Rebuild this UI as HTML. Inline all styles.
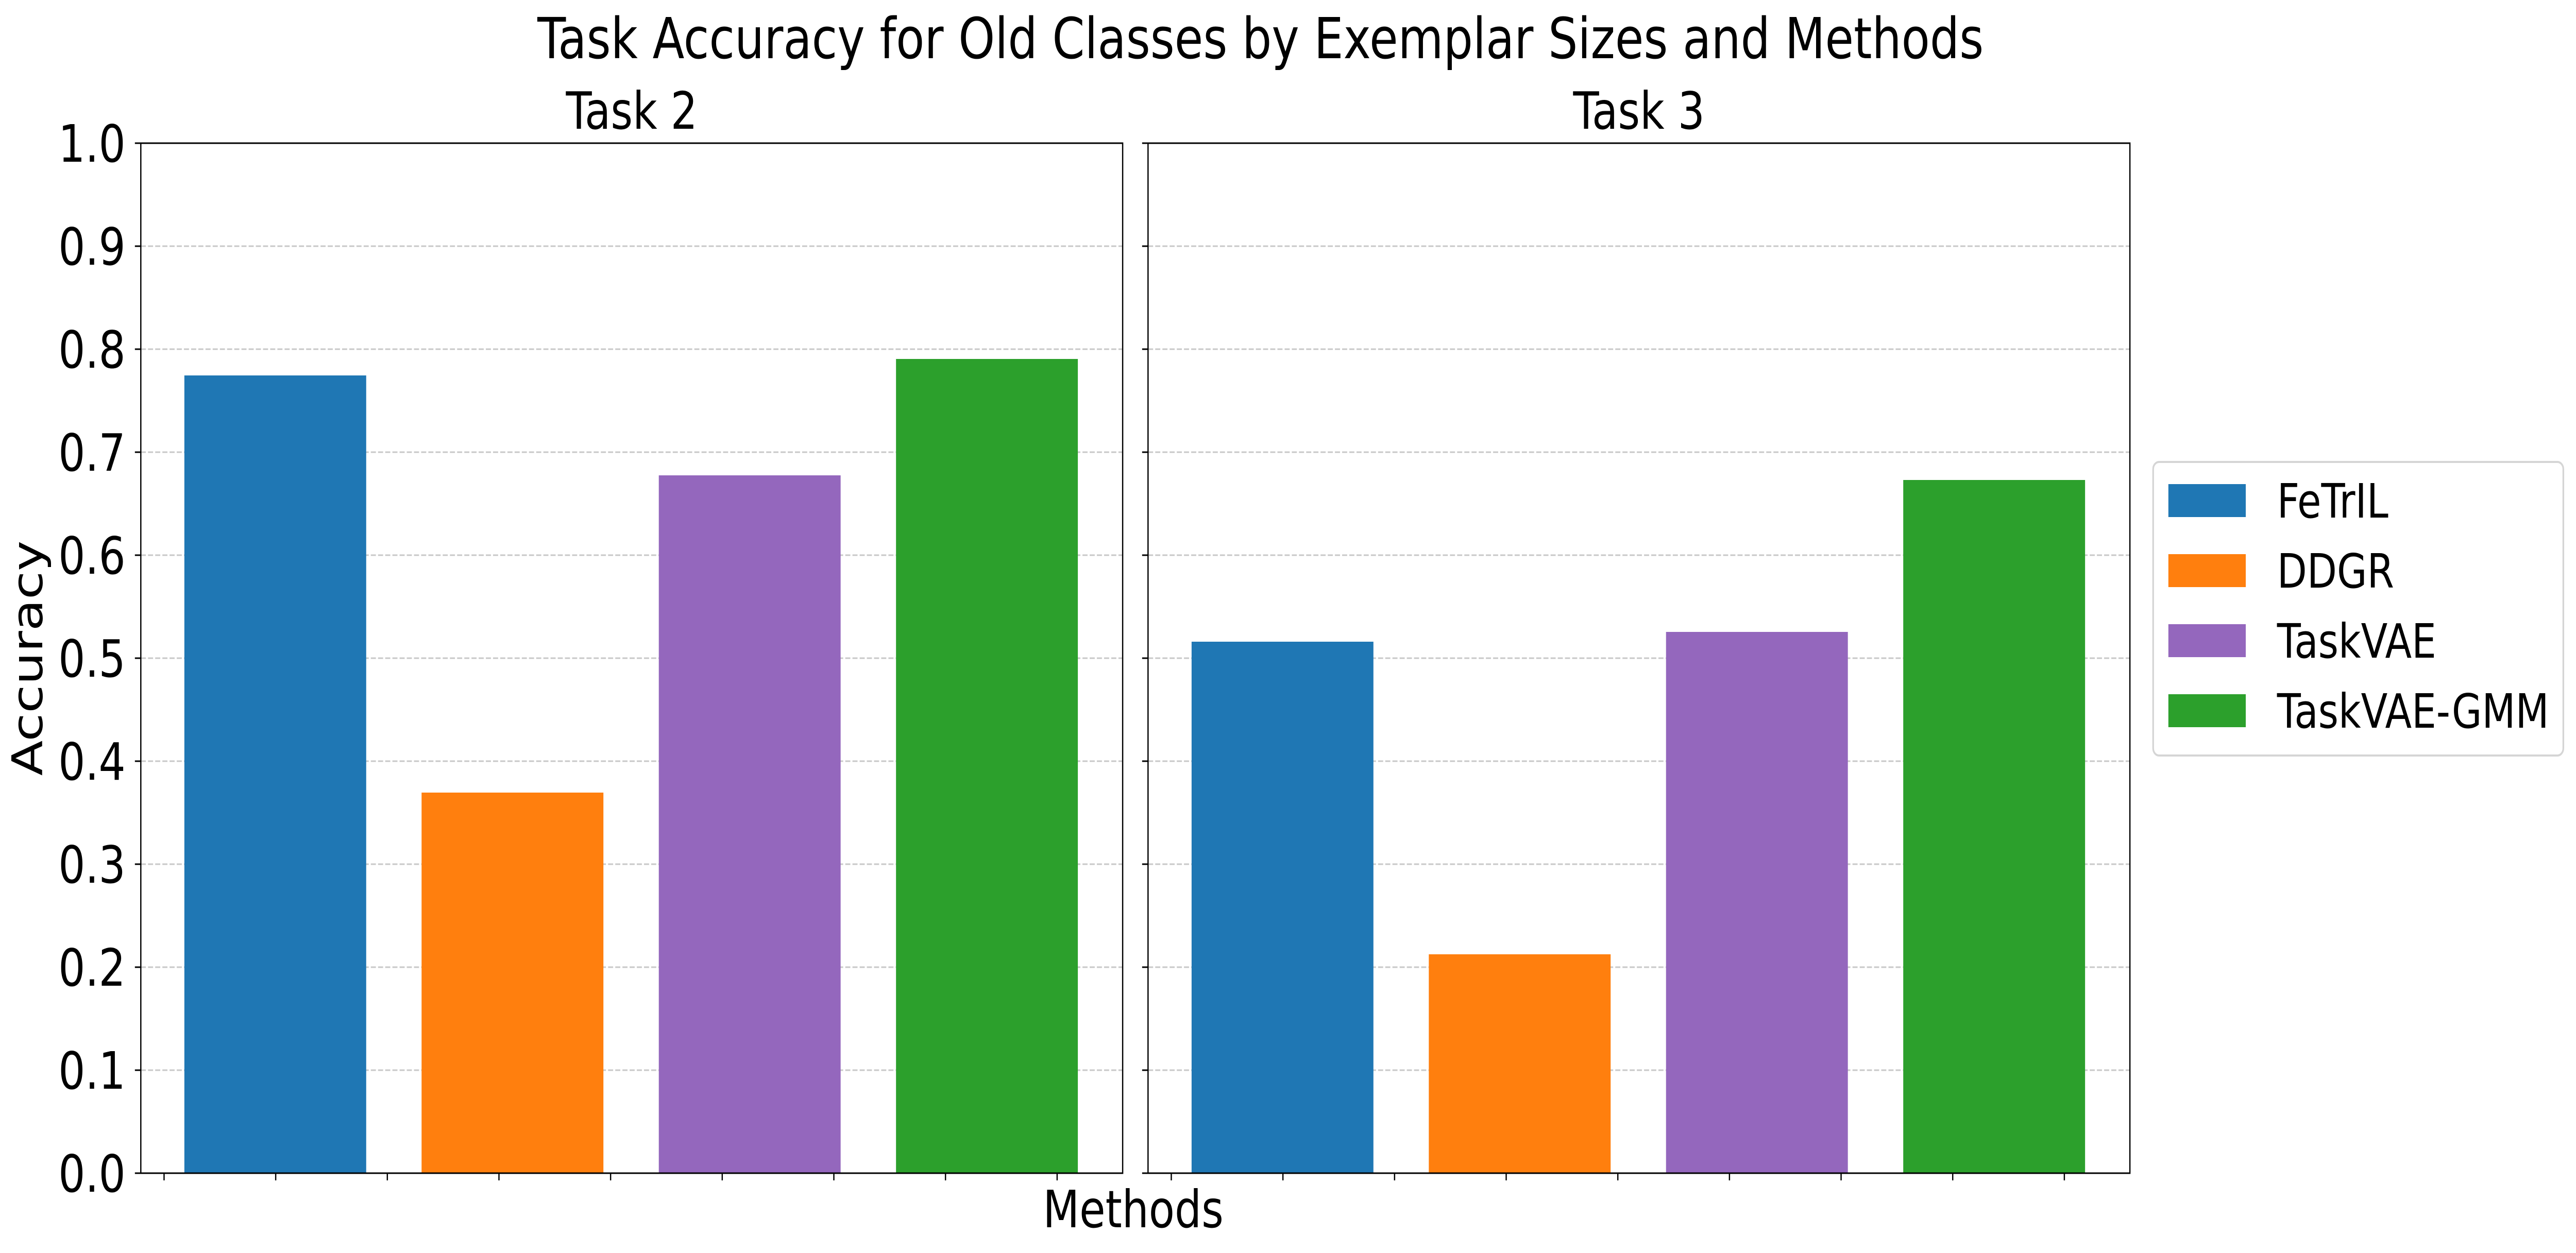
<!DOCTYPE html>
<html><head><meta charset="utf-8"><style>
html,body{margin:0;padding:0;background:#fff;overflow:hidden;width:100vw;height:100vh;}
svg{display:block;width:100vw;height:100vh;font-family:"DejaVu Sans","Liberation Sans",sans-serif;}
</style></head><body>
<svg id="chart" xmlns="http://www.w3.org/2000/svg" viewBox="0 0 6092 2433" preserveAspectRatio="none">
<rect x="0" y="0" width="6092" height="2433" fill="#fff"/>
<text x="2981" y="113" font-size="110" text-anchor="middle">Task Accuracy for Old Classes by Exemplar Sizes and Methods</text>
<text transform="translate(100,1278) rotate(-90)" font-size="100" text-anchor="middle">Accuracy</text>
<text x="2680" y="2383" font-size="100" text-anchor="middle">Methods</text>
<g id="panels"></g>
<g>
<rect x="5092" y="897" width="970" height="570" rx="14" fill="#fff" stroke="#d5d5d5" stroke-width="4"/>
<g id="legend-items"></g>
</g>
</svg>
<script>
const methods = ["FeTrIL", "DDGR", "TaskVAE", "TaskVAE-GMM"];
const colors = ["#1f77b4", "#ff7f0e", "#9467bd", "#2ca02c"];
const taskTitles = ["Task 2", "Task 3"];
const task2Values = [0.7745, 0.3695, 0.6775, 0.7905];
const task3Values = [0.516, 0.2125, 0.5255, 0.673];
const yTicks = [0.0, 0.1, 0.2, 0.3, 0.4, 0.5, 0.6, 0.7, 0.8, 0.9, 1.0];
const yTickLabels = ["0.0","0.1","0.2","0.3","0.4","0.5","0.6","0.7","0.8","0.9","1.0"];

const NS = "http://www.w3.org/2000/svg";
const panelsG = document.getElementById("panels");
const panelLefts = [333, 2715];
const panelWidth = 2322;
const plotTop = 278, plotBottom = 2278;
function yScale(v){ return plotBottom - v * (plotBottom - plotTop); }
function xBarLeft(p, i){ return panelLefts[p] + 103 + i * 561; }
const barWidth = 430;
function mk(tag, attrs, parent){
  const el = document.createElementNS(NS, tag);
  for (const k in attrs) el.setAttribute(k, attrs[k]);
  parent.appendChild(el);
  return el;
}
const allValues = [task2Values, task3Values];
for (let p = 0; p < 2; p++) {
  const g = mk("g", {}, panelsG);
  
  
  const L = panelLefts[p], R = L + panelWidth;
  yTicks.forEach((t, k) => {
    if (t === 0 || t === 1) return;
    const gl = mk("line", {x1:L, x2:R, y1:yScale(t), y2:yScale(t), stroke:"#c8c8c8", "stroke-width":3, "stroke-dasharray":"12,5"}, g);
    
    
  });
  allValues[p].forEach((v, i) => {
    const b = mk("rect", {x:xBarLeft(p,i), y:yScale(v), width:barWidth, height:plotBottom - yScale(v), fill:colors[i]}, g);
    
    
  });
  yTicks.forEach((t, k) => {
    const tk = mk("line", {x1:L-14, x2:L, y1:yScale(t), y2:yScale(t), stroke:"#000", "stroke-width":3}, g);
    
    
    if (p === 0) {
      const tl = mk("text", {x:L-36, y:yScale(t)+36, "font-size":100, "text-anchor":"end"}, g);
      tl.textContent = yTickLabels[k];
      
      
    }
  });
  for (let k = 0; k < 9; k++) {
    const x = L + 55 + k * 264;
    const xt = mk("line", {x1:x, x2:x, y1:plotBottom, y2:plotBottom+14, stroke:"#000", "stroke-width":3}, g);
    
    
  }
  const fr = mk("rect", {x:L, y:plotTop, width:panelWidth, height:plotBottom-plotTop, fill:"none", stroke:"#000", "stroke-width":3}, g);
  
  
  const st = mk("text", {x:(L+R)/2, y:250, "font-size":100, "text-anchor":"middle"}, g);
  st.textContent = taskTitles[p];
  
  
}
const lg = document.getElementById("legend-items");
methods.forEach((m, i) => {
  const y = 940 + i * 136;
  const it = mk("g", {}, lg);
  
  
  const sw = mk("rect", {x:5128, y:y, width:183, height:64, fill:colors[i]}, it);
  
  
  const tx = mk("text", {x:5385, y:y+65, "font-size":92}, it);
  tx.textContent = m;
  
  
});
</script>
</body></html>
